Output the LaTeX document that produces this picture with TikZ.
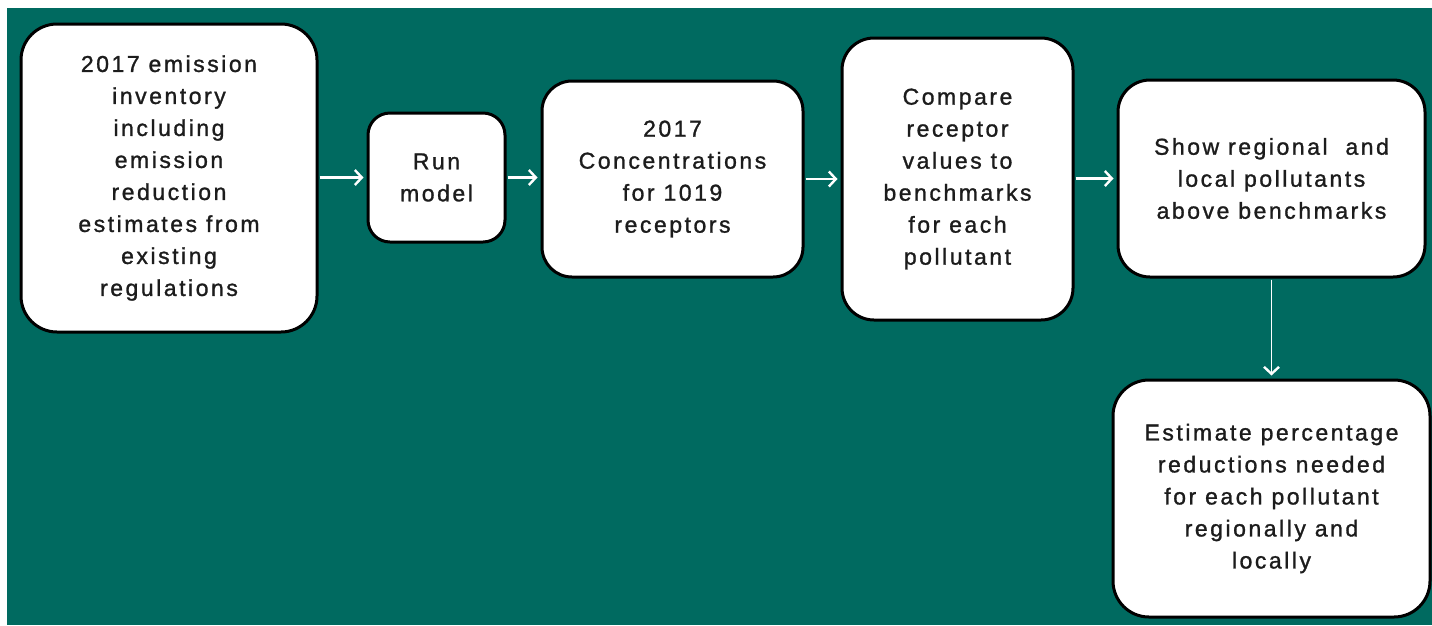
\documentclass[tikz,border=0pt]{standalone}
\usepackage{fontspec}
\setmainfont{Liberation Sans}[LetterSpace=11, FakeBold=1.2]
\usetikzlibrary{arrows.meta}
\definecolor{bgteal}{HTML}{006A60}
\definecolor{txt}{HTML}{1C1C1C}
\tikzset{
  x=1pt,y=-1pt,
  box/.style={draw=black, line width=3pt, fill=white, rounded corners=#1,
    rectangle, align=center, inner sep=0pt, text=txt,
    font=\fontsize{23}{32}\selectfont},
  box/.default=32pt,
  arr/.style={draw=white, line width=2.6pt, -{Straight Barb[length=7pt,width=15pt,line width=2.4pt]}, shorten >=3pt, shorten <=1pt}
}
\begin{document}
\begin{tikzpicture}
\useasboundingbox (0,0) rectangle (1432,625);
\fill[white] (0,0) rectangle (1432,625);
\fill[bgteal] (7,8) rectangle (1432,625);

\node[box=36pt, minimum width=296pt, minimum height=308pt] (inv) at (169,178)
  {2017 emission\\inventory\\including\\emission\\reduction\\estimates from\\existing\\regulations};
\node[box=22pt, minimum width=137pt, minimum height=129pt] (run) at (436.5,177.5)
  {Run\\model};
\node[box=30pt, minimum width=261pt, minimum height=196pt] (conc) at (672.5,179)
  {2017\\Concentrations\\for 1019\\receptors};
\node[box=32pt, minimum width=231pt, minimum height=282pt] (cmp) at (957.5,179)
  {Compare\\receptor\\values to\\benchmarks\\for each\\pollutant};
\node[box=32pt, minimum width=307pt, minimum height=197pt] (show) at (1271.5,178.5)
  {Show regional\ \ and\\local pollutants\\above benchmarks};
\node[box=36pt, minimum width=317pt, minimum height=237pt] (est) at (1271.5,498.5)
  {Estimate percentage\\reductions needed\\for each pollutant\\regionally and\\locally};

\draw[arr] (run.west -| inv.east) -- (run.west);
\draw[arr] (run.east) -- (run.east -| conc.west);
\draw[arr] (conc.east) -- (conc.east -| cmp.west);
\draw[arr] (show.west -| cmp.east) -- (show.west);
\draw[arr, line width=1.8pt] (show.south) -- (est.north);
\end{tikzpicture}
\end{document}
